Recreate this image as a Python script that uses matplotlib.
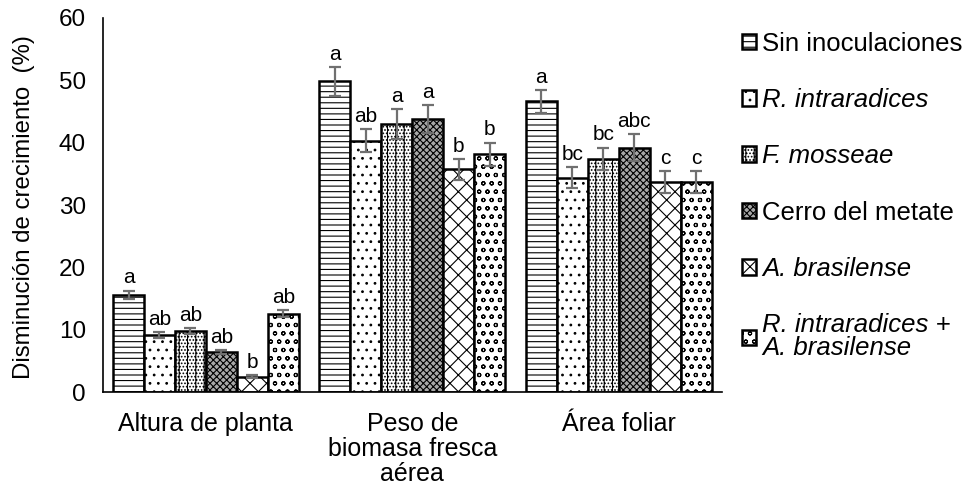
import numpy as np
import matplotlib.pyplot as plt

plt.rcParams['font.family'] = ['Liberation Sans', 'DejaVu Sans']
plt.rcParams['hatch.linewidth'] = 0.8

# Growth reduction data
categories = ['Altura de planta', 'Peso de\nbiomasa fresca\naérea', 'Área foliar']
series = ['Sin inoculaciones', 'R. intraradices', 'F. mosseae',
          'Cerro del metate', 'A. brasilense', 'R. intraradices +\nA. brasilense']
sin_inoc = [15.6, 49.8, 46.6]
r_intra = [9.2, 40.3, 34.4]
f_moss = [9.8, 43.0, 37.4]
cerro = [6.5, 43.8, 39.2]
a_bras = [2.5, 35.7, 33.7]
r_a = [12.6, 38.1, 33.7]
values = [sin_inoc, r_intra, f_moss, cerro, a_bras, r_a]

err_sin = [0.7, 2.3, 1.8]
err_intra = [0.5, 1.8, 1.7]
err_moss = [0.5, 2.4, 1.8]
err_cerro = [0.3, 2.2, 2.1]
err_bras = [0.2, 1.7, 1.7]
err_ra = [0.5, 1.9, 1.7]
errors = [err_sin, err_intra, err_moss, err_cerro, err_bras, err_ra]

letters = [['a', 'a', 'a'], ['ab', 'ab', 'bc'], ['ab', 'a', 'bc'],
           ['ab', 'a', 'abc'], ['b', 'b', 'c'], ['ab', 'b', 'c']]

hatches = ['---', '..', '||.....', 'xxxxx', 'xx', 'oo']
faces = ['white', 'white', 'white', '#a8a8a8', 'white', 'white']

fig = plt.figure(figsize=(9.69, 4.94), dpi=100)
ax = fig.add_axes([0.106, 0.206, 0.639, 0.758])

x = np.arange(len(categories))
w = 0.15
handles = []
for i, (vals, errs) in enumerate(zip(values, errors)):
    pos = x + (i - 2.5) * w
    b = ax.bar(pos, vals, w, color=faces[i], edgecolor='black', linewidth=1.8,
               hatch=hatches[i], label=series[i])
    ax.errorbar(pos, vals, yerr=errs, fmt='none', ecolor='#707070',
                elinewidth=1.6, capsize=4, capthick=1.6)
    for p, v, e, t in zip(pos, vals, errs, letters[i]):
        ax.text(p, v + e + 0.5, t, ha='center', va='bottom', fontsize=15)
    handles.append(b)

ax.set_xlim(-0.5, 2.5)
ax.set_ylim(0, 60)
ax.set_yticks(range(0, 61, 10))
ax.set_xticks(x)
ax.set_xticklabels(categories, fontsize=18, linespacing=1.05)
ax.tick_params(axis='y', labelsize=17.5, length=0, pad=12)
ax.tick_params(axis='x', length=0, pad=14)
ax.set_ylabel('Disminución de crecimiento  (%)', fontsize=17.3)
ax.yaxis.set_label_coords(-0.11, 0.495)
for s in ['top', 'right']:
    ax.spines[s].set_visible(False)
ax.spines['left'].set_linewidth(1.2)
ax.spines['bottom'].set_linewidth(1.2)

leg = fig.legend(handles=handles, labels=series, loc='upper left',
                 bbox_to_anchor=(0.755, 0.957), frameon=False, fontsize=18.5,
                 handlelength=0.55, handleheight=0.55, handletextpad=0.25,
                 labelspacing=1.26, borderaxespad=0)
for i, t in enumerate(leg.get_texts()):
    t.set_linespacing(0.95)
    if i > 0 and i != 3:
        t.set_style('italic')

fig.savefig('out.png', dpi=100)
